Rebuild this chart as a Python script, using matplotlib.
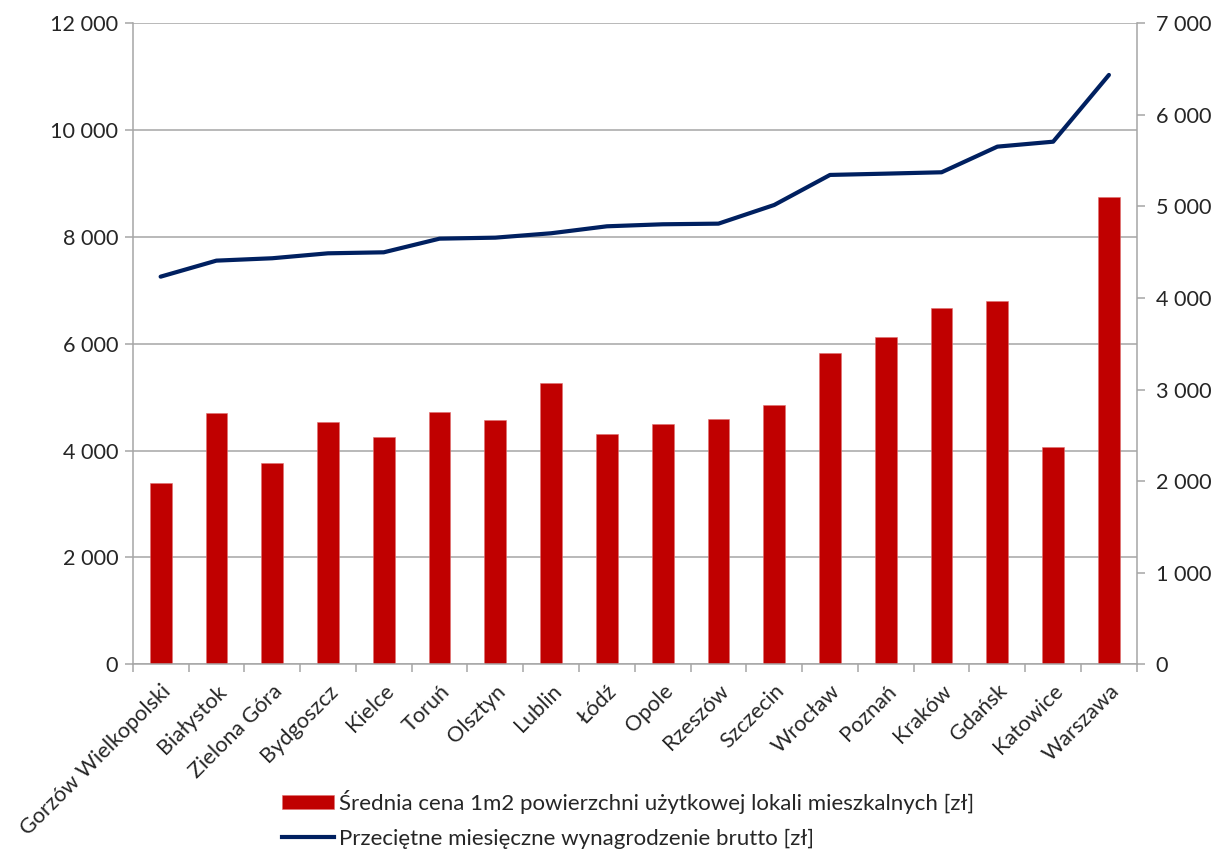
import matplotlib
matplotlib.use("Agg")
import matplotlib.pyplot as plt
from matplotlib.ticker import FuncFormatter, FixedLocator
from matplotlib.patches import Patch
from matplotlib.lines import Line2D
import numpy as np

cities = ["Gorzów Wielkopolski", "Białystok", "Zielona Góra", "Bydgoszcz", "Kielce",
          "Toruń", "Olsztyn", "Lublin", "Łódź", "Opole", "Rzeszów", "Szczecin",
          "Wrocław", "Poznań", "Kraków", "Gdańsk", "Katowice", "Warszawa"]

price_per_m2 = [3388, 4710, 3774, 4542, 4255, 4729, 4568, 5261, 4306, 4493,
                4587, 4849, 5822, 6122, 6676, 6796, 4062, 8748]

gross_wage = [4233, 4408, 4434, 4488, 4499, 4648, 4659, 4707, 4783, 4805,
              4812, 5016, 5344, 5358, 5373, 5653, 5707, 6436]

label_price = "Średnia cena 1m2 powierzchni użytkowej lokali mieszkalnych [zł]"
label_wage = "Przeciętne miesięczne wynagrodzenie brutto [zł]"

plt.rcParams["font.family"] = ["Lato", "DejaVu Sans"]
FS = 15.6
FS_LEG = 16
TEXT = "#262626"
GRID = "#A6A6A6"

fig = plt.figure(figsize=(12.29, 8.5), dpi=100)
ax = fig.add_axes([0.108, 0.2185, 0.817, 0.7541])
ax2 = ax.twinx()

x = np.arange(len(cities))
ax.bar(x, price_per_m2, width=0.39, color="#C00000", edgecolor="#E07070",
       linewidth=0.4, zorder=2)
ax2.plot(x, gross_wage, color="#002060", lw=3.0, solid_capstyle="round",
         solid_joinstyle="round", zorder=3)

space_fmt = FuncFormatter(lambda v, p: f"{int(v):,}".replace(",", " "))

ax.set_xlim(-0.5, len(cities) - 0.5)
ax.set_ylim(0, 12000)
ax.set_yticks(np.arange(0, 12001, 2000))
ax.yaxis.set_major_formatter(space_fmt)
ax2.set_ylim(0, 7000)
ax2.set_yticks(np.arange(0, 7001, 1000))
ax2.yaxis.set_major_formatter(space_fmt)

ax.set_axisbelow(True)
ax.grid(axis="y", color=GRID, lw=1.1, zorder=0)

for a in (ax, ax2):
    a.spines["top"].set_visible(False)
    for s in ("left", "right", "bottom"):
        a.spines[s].set_color(GRID)
        a.spines[s].set_linewidth(1.1)
ax.spines["right"].set_visible(False)
ax2.spines["left"].set_visible(False)
ax2.spines["bottom"].set_visible(False)

ax.tick_params(axis="y", direction="out", length=5.5, width=1.1, color=GRID,
               labelsize=FS, labelcolor=TEXT, pad=5)
ax2.tick_params(axis="y", direction="out", length=5.5, width=1.1, color=GRID,
                labelsize=FS, labelcolor=TEXT, pad=8)

ax.set_xticks(x)
ax.set_xticklabels(cities, rotation=45, ha="right", rotation_mode="anchor",
                   fontsize=FS, color=TEXT)
ax.tick_params(axis="x", which="major", length=0, pad=12)
ax.xaxis.set_minor_locator(FixedLocator(np.arange(-0.5, len(cities), 1.0)))
ax.tick_params(axis="x", which="minor", direction="out", length=6, width=1.1,
               color=GRID)

handles = [Patch(facecolor="#C00000", edgecolor="#E07070", linewidth=0.4),
           Line2D([], [], color="#002060", lw=3.0)]
fig.legend(handles, [label_price, label_wage], loc="upper left",
           bbox_to_anchor=(266 / 1229, 1 - 774 / 850), frameon=False,
           fontsize=FS_LEG, labelcolor=TEXT, handlelength=2.35, handleheight=0.6,
           handletextpad=0.25, labelspacing=0.68, borderpad=0.2)

fig.savefig("out.png", dpi=100, facecolor="white")
